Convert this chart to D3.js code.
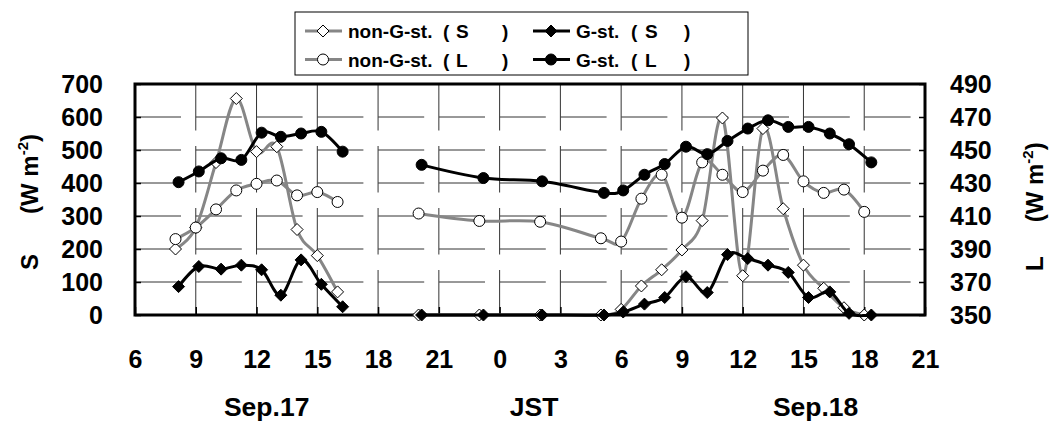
<!DOCTYPE html>
<html>
<head>
<meta charset="utf-8">
<script src="https://cdn.jsdelivr.net/npm/d3@7"></script>
<style>
  html, body { margin: 0; padding: 0; background: #fff; }
  svg { display: block; font-family: 'Liberation Sans', Arial, sans-serif; font-weight: bold; }
</style>
</head>
<body>
<div class="chart_container"></div>
<script>
'use strict';

// time = hours since Sep.17 00:00 JST
const nonGHours = [8, 9, 10, 11, 12, 13, 14, 15, 16,
  20, 23, 26, 29, 30, 31, 32, 33, 34, 35, 36, 37, 38, 39, 40, 41, 42];
const nonGS = [200, 265, 462, 656, 495, 510, 259, 180, 70,
  0, 0, 0, 0, 17, 88, 137, 197, 286, 597, 119, 565, 322, 151, 81, 22, 0];
const nonGL = [396, 403, 414, 425.5, 429.5, 431.5, 422.5, 424.5, 418.5,
  411.5, 407, 406.5, 396.5, 394.5, 420.5, 435, 409, 442.5, 435, 424.5, 437.5, 447, 431, 424, 426, 412.5];

const gHours = [8.15, 9.15, 10.25, 11.25, 12.25, 13.2, 14.2, 15.2, 16.25,
  20.15, 23.2, 26.1, 29.15, 30.1, 31.15, 32.15, 33.2, 34.25, 35.25, 36.25, 37.25, 38.25, 39.25, 40.3, 41.25, 42.35];
const gS = [86, 147, 139, 151, 137, 60, 167, 93, 25,
  0, 0, 0, 0, 9, 33, 53, 116, 68, 183, 171, 151, 129, 53, 70, 5, 0];
const gL = [430.5, 437, 445, 444, 460.5, 458, 460, 461, 449,
  441, 433, 431, 424, 425.5, 435, 441.5, 452, 447.5, 455.5, 463, 468, 464, 464, 460, 453.5, 442.5];

const hourTicks = [6, 9, 12, 15, 18, 21, 24, 27, 30, 33, 36, 39, 42, 45];
const hourLabels = ['6', '9', '12', '15', '18', '21', '0', '3', '6', '9', '12', '15', '18', '21'];
const sTicks = [0, 100, 200, 300, 400, 500, 600, 700];
const lTicks = [350, 370, 390, 410, 430, 450, 470, 490];
const dayLabels = ['Sep.17', 'JST', 'Sep.18'];

const legendNames = ['non-G-st.', 'G-st.', 'non-G-st.', 'G-st.'];
const legendSymbols = ['S', 'S', 'L', 'L'];

const width = 1055,
  height = 423,
  plotLeft = 135,
  plotRight = 925,
  plotTop = 84,
  plotBottom = 315;

const grey = '#868686';

const svg = d3.select('.chart_container')
  .append('svg')
  .attr('width', width)
  .attr('height', height);

const x = d3.scaleLinear().domain([6, 45]).range([plotLeft, plotRight]);
const yS = d3.scaleLinear().domain([0, 700]).range([plotBottom, plotTop]);
const yL = d3.scaleLinear().domain([350, 490]).range([plotBottom, plotTop]);

// grid (dashed look of the original)
svg.append('g')
  .selectAll('line')
  .data(sTicks.slice(1, -1))
  .enter()
  .append('line')
  .attr('x1', plotLeft).attr('x2', plotRight)
  .attr('y1', d => yS(d)).attr('y2', d => yS(d))
  .attr('stroke', '#333')
  .attr('stroke-dasharray', '46 14.8');

svg.append('g')
  .selectAll('line')
  .data(hourTicks.slice(1, -1))
  .enter()
  .append('line')
  .attr('x1', d => x(d)).attr('x2', d => x(d))
  .attr('y1', plotTop).attr('y2', plotBottom)
  .attr('stroke', '#333')
  .attr('stroke-dasharray', '46.5 15.5');

// axes
const xAxis = svg.append('g')
  .attr('transform', `translate(0, ${plotBottom})`)
  .call(d3.axisBottom(x).tickValues(hourTicks).tickSize(-8).tickPadding(35)
    .tickFormat((d, i) => hourLabels[i]));

const yAxisLeft = svg.append('g')
  .attr('transform', `translate(${plotLeft}, 0)`)
  .call(d3.axisLeft(yS).tickValues(sTicks).tickSize(-6).tickPadding(32));

const yAxisRight = svg.append('g')
  .attr('transform', `translate(${plotRight}, 0)`)
  .call(d3.axisRight(yL).tickValues(lTicks).tickSize(-6).tickPadding(25));

[xAxis, yAxisLeft, yAxisRight].forEach(g => {
  g.select('.domain').remove();
  g.selectAll('.tick line').attr('stroke', '#000').attr('stroke-width', 1.5);
  g.selectAll('.tick text')
    .attr('fill', '#000')
    .style('font-size', '25px')
    .style('font-family', "'Liberation Sans', Arial, sans-serif")
    .style('font-weight', 'bold');
});

svg.append('rect')
  .attr('x', plotLeft).attr('y', plotTop)
  .attr('width', plotRight - plotLeft).attr('height', plotBottom - plotTop)
  .attr('fill', 'none')
  .attr('stroke', '#000')
  .attr('stroke-width', 3);

// series
const diamond = 'M0,-6L6,0L0,6L-6,0Z';

const series = [
  { hours: nonGHours, values: nonGS, y: yS, color: grey, marker: 'diamond', fill: '#fff' },
  { hours: gHours, values: gS, y: yS, color: '#000', marker: 'diamond', fill: '#000' },
  { hours: nonGHours, values: nonGL, y: yL, color: grey, marker: 'circle', fill: '#fff' },
  { hours: gHours, values: gL, y: yL, color: '#000', marker: 'circle', fill: '#000' }
];

const line = d3.line()
  .x(d => x(d.h))
  .y(d => d.y)
  .curve(d3.curveCardinal);

series.forEach(s => {
  const pts = s.hours.map((h, i) => ({ h, y: s.y(s.values[i]) }));

  // no observations between 16 and 20 JST on Sep.17 -> break the line there
  const segments = [[]];
  pts.forEach((p, i) => {
    if (i > 0 && p.h - pts[i - 1].h > 3.5) segments.push([]);
    segments[segments.length - 1].push(p);
  });

  const g = svg.append('g');

  g.selectAll('path.line')
    .data(segments)
    .enter()
    .append('path')
    .attr('class', 'line')
    .attr('d', line)
    .attr('fill', 'none')
    .attr('stroke', s.color)
    .attr('stroke-width', 3);

  if (s.marker === 'diamond') {
    g.selectAll('path.mark')
      .data(pts)
      .enter()
      .append('path')
      .attr('class', 'mark')
      .attr('d', diamond)
      .attr('transform', d => `translate(${x(d.h)}, ${d.y})`)
      .attr('fill', s.fill)
      .attr('stroke', '#000')
      .attr('stroke-width', 1);
  } else {
    g.selectAll('circle')
      .data(pts)
      .enter()
      .append('circle')
      .attr('cx', d => x(d.h))
      .attr('cy', d => d.y)
      .attr('r', 5.5)
      .attr('fill', s.fill)
      .attr('stroke', '#000')
      .attr('stroke-width', 1);
  }
});

// axis titles
const title = (tx, ty, sym, gap) => {
  const t = svg.append('text')
    .attr('transform', `translate(${tx}, ${ty}) rotate(-90)`)
    .style('font-size', '24px');
  t.append('tspan').text(sym);
  t.append('tspan').attr('dx', gap).text('(W m');
  t.append('tspan').attr('dy', -10).style('font-size', '15px').text('-2');
  t.append('tspan').attr('dy', 10).text(')');
};
title(38, 270, 'S', 40);
title(1043, 271, 'L', 34);

svg.selectAll('text.day')
  .data(dayLabels)
  .enter()
  .append('text')
  .attr('class', 'day')
  .attr('x', (d, i) => x([12.5, 25.7, 39.6][i]))
  .attr('y', 416)
  .attr('text-anchor', 'middle')
  .style('font-size', '26.5px')
  .text(d => d);

// legend
const legend = svg.append('g');

legend.append('rect')
  .attr('x', 295).attr('y', 12)
  .attr('width', 453).attr('height', 63)
  .attr('fill', '#fff')
  .attr('stroke', '#000')
  .attr('stroke-width', 1);

const colX = [305, 533];
const rowY = [31, 59.5];
const partOffsets = [[0, 95, 108, 154], [0, 55, 69, 108]];

series.forEach((s, i) => {
  const col = i % 2, row = Math.floor(i / 2);
  const item = legend.append('g')
    .attr('transform', `translate(${colX[col]}, ${rowY[row]})`);

  item.append('line')
    .attr('x1', 0).attr('x2', 37)
    .attr('stroke', s.color)
    .attr('stroke-width', 3);

  if (s.marker === 'diamond') {
    item.append('path')
      .attr('d', diamond)
      .attr('transform', 'translate(18, 0)')
      .attr('fill', s.fill)
      .attr('stroke', '#000');
  } else {
    item.append('circle')
      .attr('cx', 18)
      .attr('r', 5.5)
      .attr('fill', s.fill)
      .attr('stroke', '#000');
  }

  const parts = [legendNames[i], '(', legendSymbols[i], ')'];
  item.selectAll('text')
    .data(parts)
    .enter()
    .append('text')
    .attr('x', (d, j) => 43 + partOffsets[col][j])
    .attr('y', 7)
    .style('font-size', '19px')
    .text(d => d);
});
</script>
</body>
</html>
